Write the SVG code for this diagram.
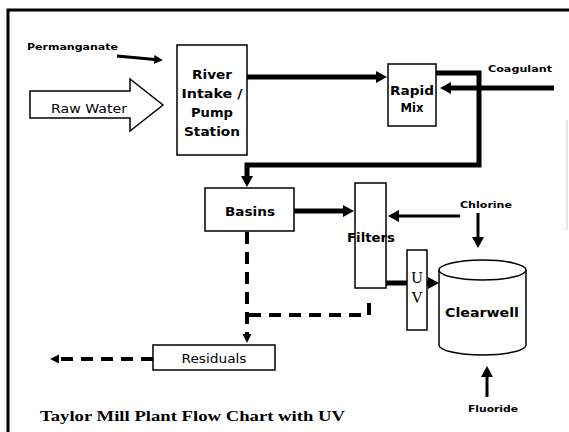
<svg xmlns="http://www.w3.org/2000/svg" width="569" height="432" viewBox="0 0 569 432">
<style>
.box{fill:#fff;stroke:#000;stroke-width:1.5}
.flow{fill:none;stroke:#000;stroke-width:5}
.dash{fill:none;stroke:#000;stroke-width:4;stroke-dasharray:12 8}
.thin{fill:none;stroke:#000;stroke-width:3}
.lbl{font-family:"DejaVu Sans",Verdana,sans-serif;font-weight:bold;fill:#000}
.sm{font-family:"DejaVu Sans",Verdana,sans-serif;font-weight:bold;font-size:8.5px;fill:#000}
.reg{font-family:"DejaVu Sans",Verdana,sans-serif;font-size:12px;fill:#000}
.serif{font-family:"Liberation Serif","Times New Roman",serif;fill:#000}
</style>
<defs>
<marker id="ah" markerUnits="userSpaceOnUse" markerWidth="12" markerHeight="12" refX="1" refY="6" orient="auto">
<path d="M0,0 L11,6 L0,12 z" fill="#000"/>
</marker>
<marker id="ahs" markerUnits="userSpaceOnUse" markerWidth="10" markerHeight="10" refX="1" refY="4.5" orient="auto">
<path d="M0,0 L9,4.5 L0,9 z" fill="#000"/>
</marker>
</defs>
<rect width="569" height="432" fill="#fff"/>
<g id="frame">
<path d="M8,432 L8,10 L569,10" fill="none" stroke="#000" stroke-width="3"/>
<line x1="567" y1="120" x2="567" y2="230" stroke="#ccc" stroke-width="1"/>
</g>
<g id="connectors">
<line class="thin" x1="117" y1="56" x2="155" y2="59.5" marker-end="url(#ahs)"/>
<line class="flow" x1="245" y1="77" x2="377" y2="77" marker-end="url(#ah)"/>
<line class="flow" x1="554" y1="88" x2="450" y2="88" marker-end="url(#ah)"/>
<polyline class="flow" points="436,73 479,73 479,165 247,165 247,177" marker-end="url(#ah)"/>
<line class="flow" x1="294" y1="211" x2="344" y2="211" marker-end="url(#ah)"/>
<line class="thin" x1="460" y1="216" x2="398" y2="216" marker-end="url(#ah)"/>
<line class="thin" x1="478" y1="213" x2="478" y2="238" marker-end="url(#ah)"/>
<line class="flow" x1="374" y1="283" x2="407" y2="283"/>
<line class="flow" x1="427" y1="283" x2="429" y2="283" marker-end="url(#ah)"/>
<line class="thin" x1="487" y1="397" x2="487" y2="376" marker-end="url(#ah)"/>
<line class="dash" x1="247" y1="232" x2="247" y2="335" marker-end="url(#ahs)"/>
<polyline class="dash" points="369,303 369,315 247,315"/>
<line class="dash" x1="153" y1="359" x2="58" y2="359" stroke-dasharray="13 9" marker-end="url(#ahs)"/>
</g>
<g id="permanganate">
<text class="sm" x="27" y="50" textLength="91" lengthAdjust="spacingAndGlyphs">Permanganate</text>
</g>
<g id="raw-water">
<polygon class="box" points="30,91 130,91 130,79 163,105 130,131 130,118 30,118"/>
<text class="reg" x="89" y="113" text-anchor="middle" font-size="13" textLength="76" lengthAdjust="spacingAndGlyphs">Raw Water</text>
</g>
<g id="river-intake">
<rect class="box" x="177" y="45" width="70" height="110"/>
<g class="lbl" font-size="13" text-anchor="middle">
<text x="212" y="79" textLength="40" lengthAdjust="spacingAndGlyphs">River</text>
<text x="212" y="98" textLength="61" lengthAdjust="spacingAndGlyphs">Intake /</text>
<text x="212" y="117" textLength="42" lengthAdjust="spacingAndGlyphs">Pump</text>
<text x="212" y="136" textLength="56" lengthAdjust="spacingAndGlyphs">Station</text>
</g>
</g>
<g id="rapid-mix">
<rect class="box" x="388" y="64" width="48" height="62"/>
<g class="lbl" font-size="13" text-anchor="middle">
<text x="412" y="95" textLength="44" lengthAdjust="spacingAndGlyphs">Rapid</text>
<text x="412" y="112" textLength="23" lengthAdjust="spacingAndGlyphs">Mix</text>
</g>
</g>
<g id="coagulant">
<text class="sm" x="488" y="72" textLength="64" lengthAdjust="spacingAndGlyphs">Coagulant</text>
</g>
<g id="basins">
<rect class="box" x="205" y="188" width="89" height="43"/>
<text class="lbl" x="250" y="216" font-size="12.5" text-anchor="middle" textLength="50" lengthAdjust="spacingAndGlyphs">Basins</text>
</g>
<g id="filters">
<rect class="box" x="355" y="183" width="31" height="105"/>
<text class="lbl" x="371" y="242" font-size="12.5" text-anchor="middle" textLength="48" lengthAdjust="spacingAndGlyphs">Filters</text>
</g>
<g id="chlorine">
<text class="sm" x="460" y="208" textLength="52" lengthAdjust="spacingAndGlyphs">Chlorine</text>
</g>
<g id="uv">
<rect class="box" x="407" y="250" width="20" height="80"/>
<g class="serif" font-size="16" text-anchor="middle">
<text x="417" y="283">U</text>
<text x="417" y="303">V</text>
</g>
</g>
<g id="clearwell">
<path class="box" d="M439,270 L439,345 A43.5,10 0 0 0 526,345 L526,270"/>
<ellipse class="box" cx="482.5" cy="270" rx="43.5" ry="10"/>
<text class="lbl" x="482" y="317" font-size="13" text-anchor="middle" textLength="74" lengthAdjust="spacingAndGlyphs">Clearwell</text>
</g>
<g id="fluoride">
<text class="sm" x="468" y="412" textLength="50" lengthAdjust="spacingAndGlyphs">Fluoride</text>
</g>
<g id="residuals">
<rect class="box" x="153" y="345" width="122" height="25"/>
<text class="reg" x="214" y="363" text-anchor="middle" textLength="65" lengthAdjust="spacingAndGlyphs">Residuals</text>
</g>
<g id="title">
<text class="serif" x="40" y="421" font-size="14.5" font-weight="bold" textLength="305" lengthAdjust="spacingAndGlyphs">Taylor Mill Plant Flow Chart with UV</text>
</g>
</svg>
